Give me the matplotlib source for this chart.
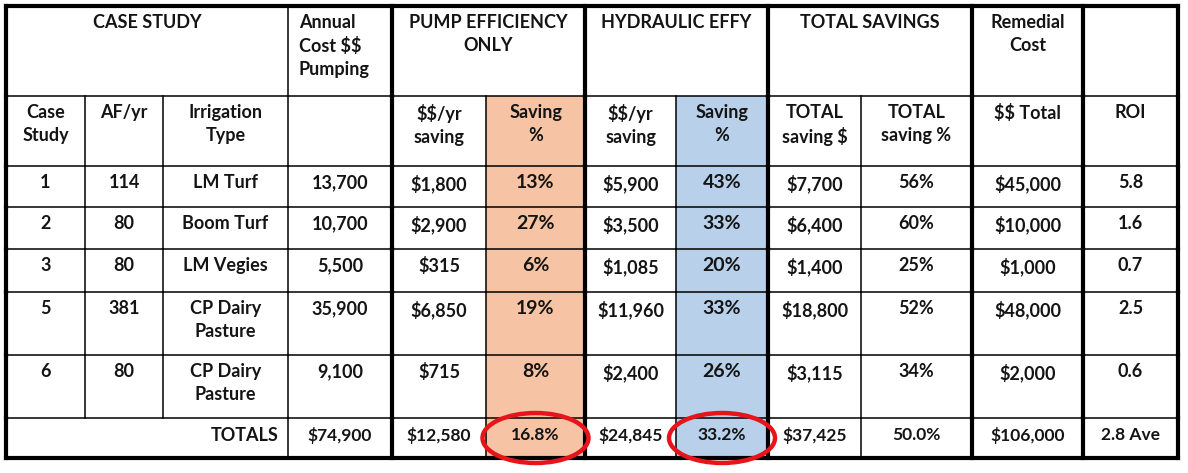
import matplotlib
matplotlib.use("Agg")
import matplotlib.pyplot as plt
from matplotlib.patches import Rectangle, Ellipse

plt.rcParams['font.family'] = ['Lato', 'DejaVu Sans']
plt.rcParams['text.parse_math'] = False

# data
case_ids = ['1', '2', '3', '5', '6']
af_yr = [114, 80, 80, 381, 80]
irrigation = ['LM Turf', 'Boom Turf', 'LM Vegies', 'CP Dairy\nPasture', 'CP Dairy\nPasture']
annual_cost = [13700, 10700, 5500, 35900, 9100]
pump_saving = [1800, 2900, 315, 6850, 715]
pump_pct = [13, 27, 6, 19, 8]
hyd_saving = [5900, 3500, 1085, 11960, 2400]
hyd_pct = [43, 33, 20, 33, 26]
total_saving = [7700, 6400, 1400, 18800, 3115]
total_pct = [56, 60, 25, 52, 34]
remedial_cost = [45000, 10000, 1000, 48000, 2000]
roi = [5.8, 1.6, 0.7, 2.5, 0.6]

totals_annual = 74900
totals_pump = 12580
totals_pump_pct = 16.8
totals_hyd = 24845
totals_hyd_pct = 33.2
totals_saving = 37425
totals_saving_pct = 50.0
totals_remedial = 106000
totals_roi = 2.8

group_headers = ['CASE STUDY', 'Annual\nCost $$\nPumping', 'PUMP EFFICIENCY\nONLY',
                 'HYDRAULIC EFFY', 'TOTAL SAVINGS', 'Remedial\nCost', '']
sub_headers = ['Case\nStudy', 'AF/yr', 'Irrigation\nType', '', '$$/yr\nsaving', 'Saving\n%',
               '$$/yr\nsaving', 'Saving\n%', 'TOTAL\nsaving $', 'TOTAL\nsaving %', '$$ Total', 'ROI']

# layout (pixels)
col_edges = [6, 85, 163, 288, 392, 486, 585, 676, 768, 861, 972, 1083, 1178]
row_edges = [6, 96, 166, 207, 249, 292, 355, 418, 458]
thick_edges = {0, 4, 6, 8, 10, 11, 12}
group_spans = [(0, 3), (3, 4), (4, 6), (6, 8), (8, 10), (10, 11), (11, 12)]
orange = '#F6C4A4'
blue = '#B8D0E9'
ink = '#141414'

fig = plt.figure(figsize=(11.88, 4.73), dpi=100)
ax = fig.add_axes([0, 0, 1, 1])
ax.set_xlim(0, 1188)
ax.set_ylim(473, 0)
ax.axis('off')

# shaded saving % columns
for c, col in [(5, orange), (7, blue)]:
    ax.add_patch(Rectangle((col_edges[c], row_edges[1]), col_edges[c + 1] - col_edges[c],
                           row_edges[-1] - row_edges[1], facecolor=col, edgecolor='none', zorder=0))

# grid lines
thin, thick = 1.1, 3.0
no_line = {0: {1, 2, 5, 7, 9}, 7: {1, 2}}
for i, x in enumerate(col_edges):
    for r in range(len(row_edges) - 1):
        if i in no_line.get(r, set()):
            continue
        ax.plot([x, x], [row_edges[r], row_edges[r + 1]], color='black',
                lw=thick if i in thick_edges else thin, solid_capstyle='projecting', zorder=3)
for j, y in enumerate(row_edges):
    lw = thick if j in (0, len(row_edges) - 1) else thin
    ax.plot([col_edges[0], col_edges[-1]], [y, y], color='black', lw=lw,
            solid_capstyle='projecting', zorder=3)


def cell_text(c, r, s, size=13, weight='bold', ha='center', x=None, dy=8):
    if x is None:
        x = (col_edges[c] + col_edges[c + 1]) / 2
    ax.text(x, row_edges[r] + dy, s, ha=ha, va='top', fontsize=size, fontweight=weight,
            linespacing=1.4, color=ink, zorder=4)


# header row 1
for (a, b), s in zip(group_spans, group_headers):
    if s.startswith('Annual'):
        cell_text(a, 0, s, x=col_edges[a] + 11, ha='left')
    else:
        cell_text(a, 0, s, x=(col_edges[a] + col_edges[b]) / 2)

# header row 2
for c, s in enumerate(sub_headers):
    cell_text(c, 1, s)

# body rows
for k in range(len(case_ids)):
    r = k + 2
    vals = [case_ids[k], str(af_yr[k]), irrigation[k], f'{annual_cost[k]:,}',
            f'${pump_saving[k]:,}', f'{pump_pct[k]}%', f'${hyd_saving[k]:,}', f'{hyd_pct[k]}%',
            f'${total_saving[k]:,}', f'{total_pct[k]}%', f'${remedial_cost[k]:,}', f'{roi[k]}']
    for c, s in enumerate(vals):
        cell_text(c, r, s, size=14 if c in (5, 7) else 13)

# totals row
r = 7
ax.text(col_edges[3] - 9, row_edges[r] + 9, 'TOTALS', ha='right', va='top', fontsize=13,
        fontweight='bold', color=ink, zorder=4)
tot_vals = [f'${totals_annual:,}', f'${totals_pump:,}', f'{totals_pump_pct:.1f}%',
            f'${totals_hyd:,}', f'{totals_hyd_pct:.1f}%', f'${totals_saving:,}',
            f'{totals_saving_pct:.1f}%', f'${totals_remedial:,}', f'{totals_roi} Ave']
for c, s in zip(range(3, 12), tot_vals):
    cell_text(c, r, s, size=12.5, dy=9)

# red circles around the total saving percentages
for c in (5, 7):
    cx = (col_edges[c] + col_edges[c + 1]) / 2
    cy = (row_edges[7] + row_edges[8]) / 2
    ax.add_patch(Ellipse((cx, cy), 106, 50, facecolor='none', edgecolor='#E8141B', lw=3.2, zorder=5))

fig.savefig('out.png', dpi=100)
